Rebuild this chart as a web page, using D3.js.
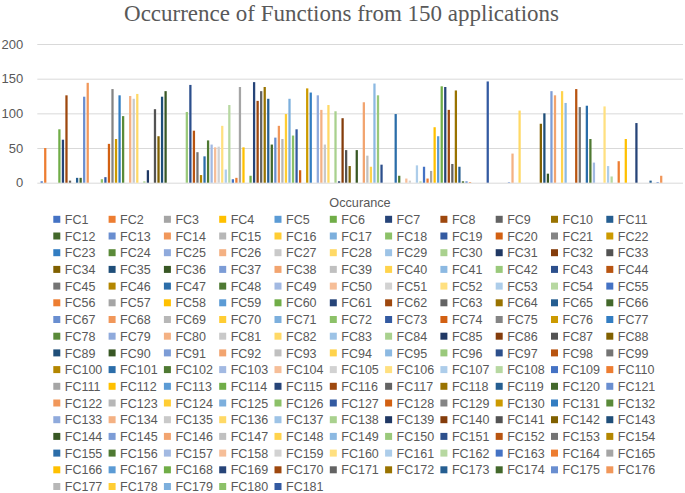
<!DOCTYPE html>
<html><head><meta charset="utf-8">
<script src="https://cdn.jsdelivr.net/npm/d3@7"></script>
<style>html,body{margin:0;padding:0;background:#fff;}</style>
</head><body>
<svg id="chart" width="685" height="493"></svg>
<script>
const title = "Occurrence of Functions from 150 applications";
const xTitle = "Occurance";
const categories = ["Occurance"];
const seriesNames = d3.range(1, 182).map(i => "FC" + i);
const values = [
  2, 50, 0, 0, 0, 77, 62, 126, 3, 0,
  7, 7, 124, 144, 0, 0, 0, 5, 8, 56,
  135, 63, 126, 96, 0, 125, 121, 128, 0, 2,
  18, 0, 106, 67, 124, 132, 0, 0, 0, 0,
  0, 102, 141, 75, 44, 11, 38, 61, 55, 51,
  52, 82, 19, 112, 5, 7, 138, 51, 0, 10,
  145, 118, 132, 138, 121, 55, 65, 82, 63, 99,
  121, 68, 77, 18, 0, 136, 130, 0, 126, 105,
  55, 112, 0, 103, 2, 93, 47, 24, 0, 47,
  0, 116, 39, 23, 143, 126, 26, 0, 0, 0,
  99, 10, 0, 6, 3, 0, 25, 2, 23, 6,
  17, 80, 67, 139, 138, 105, 27, 133, 23, 2,
  2, 1, 0, 0, 0, 0, 146, 0, 0, 0,
  0, 0, 1, 42, 0, 104, 0, 0, 0, 0,
  0, 85, 100, 13, 132, 126, 0, 132, 115, 0,
  0, 135, 109, 0, 111, 63, 29, 0, 0, 110,
  24, 9, 0, 31, 0, 63, 0, 0, 86, 0,
  0, 0, 3, 0, 1, 10, 0, 0, 0, 0,
  0
];
const yTicks = [0, 50, 100, 150, 200];

// Office theme accents and variant shading (lumMod, lumOff)
const accents = ["#4472C4", "#ED7D31", "#A5A5A5", "#FFC000", "#5B9BD5", "#70AD47"];
const shades = [[1, 0], [0.6, 0], [0.8, 0.2], [0.8, 0], [0.6, 0.4], [0.5, 0], [0.7, 0.3], [0.7, 0], [0.5, 0.5]];
function seriesColor(i) {
  const c = d3.hsl(accents[i % 6]);
  const s = shades[Math.floor(i / 6) % shades.length];
  c.l = Math.min(1, c.l * s[0] + s[1]);
  return c.formatHex();
}

const svg = d3.select("#chart");
const textColor = "#595959";
const plot = {left: 37.3, right: 683, top: 44, bottom: 182.7};

const y = d3.scaleLinear().domain([0, 200]).range([plot.bottom, plot.top]);
const x = d3.scaleBand().domain(seriesNames)
  .range([39.93, 39.93 + 3.54 * seriesNames.length])
  .paddingInner(0.36).paddingOuter(0.18);

// title
svg.append("text").attr("x", 341.5).attr("y", 20.5).attr("text-anchor", "middle")
  .attr("font-family", "'Liberation Serif','Times New Roman',serif").attr("font-size", 23)
  .attr("fill", textColor).text(title);

// gridlines
const yAxis = d3.axisLeft(y).tickValues(yTicks).tickSize(-(plot.right - plot.left)).tickPadding(14);
const gy = svg.append("g").attr("transform", `translate(${plot.left},0)`).call(yAxis);
gy.select(".domain").remove();
gy.selectAll(".tick line").attr("stroke", "#D9D9D9").attr("stroke-width", 1);
gy.selectAll(".tick text").attr("fill", textColor)
  .attr("font-family", "'Liberation Sans',Arial,sans-serif").attr("font-size", 13);

// bars
svg.append("g").selectAll("rect").data(seriesNames).join("rect")
  .attr("x", d => x(d))
  .attr("width", x.bandwidth())
  .attr("y", (d, i) => y(values[i]))
  .attr("height", (d, i) => y(0) - y(values[i]))
  .attr("fill", (d, i) => seriesColor(i));

// x axis title (category)
svg.append("text").attr("x", 360).attr("y", 207.3).attr("text-anchor", "middle")
  .attr("font-family", "'Liberation Sans',Arial,sans-serif").attr("font-size", 12.7)
  .attr("fill", textColor).text(categories[0]);

// legend
const cols = 11, colW = 55.3, rowH = 16.7, lx0 = 53.3, ly0 = 219.3;
const leg = svg.append("g").selectAll("g").data(seriesNames).join("g")
  .attr("transform", (d, i) => `translate(${lx0 + (i % cols) * colW},${ly0 + Math.floor(i / cols) * rowH})`);
leg.append("rect").attr("x", 0).attr("y", -3.5).attr("width", 7).attr("height", 7)
  .attr("fill", (d, i) => seriesColor(i));
leg.append("text").attr("x", 11.5).attr("y", 4.6)
  .attr("font-family", "'Liberation Sans',Arial,sans-serif").attr("font-size", 12.5)
  .attr("fill", textColor).text(d => d);
</script>
</body></html>
